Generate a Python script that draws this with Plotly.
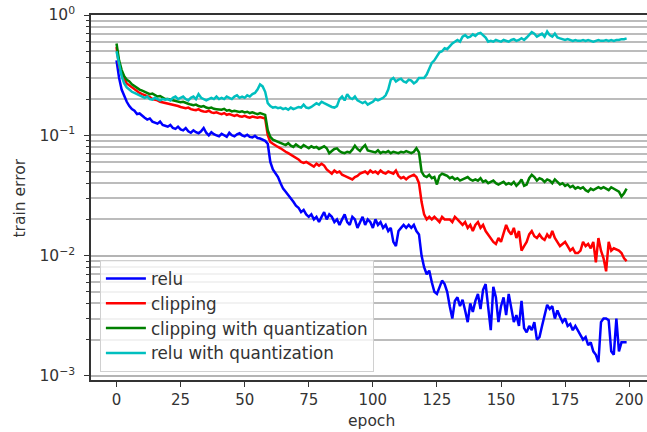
import plotly.graph_objects as go

epochs = list(range(200))

relu = [
    0.42, 0.30, 0.24, 0.21, 0.19, 0.175, 0.165, 0.16, 0.15, 0.152,
    0.145, 0.14, 0.135, 0.138, 0.13, 0.128, 0.125, 0.13, 0.122, 0.12,
    0.118, 0.122, 0.115, 0.113, 0.118, 0.112, 0.11, 0.115, 0.108, 0.105,
    0.11, 0.106, 0.104, 0.108, 0.115, 0.105, 0.1, 0.106, 0.102, 0.1,
    0.098, 0.103, 0.1, 0.097, 0.105, 0.1, 0.098, 0.102, 0.104, 0.1,
    0.098, 0.101, 0.097, 0.096, 0.099, 0.095, 0.094, 0.092, 0.09, 0.085,
    0.06, 0.052, 0.048, 0.045, 0.04, 0.036, 0.034, 0.032, 0.03, 0.028,
    0.026, 0.025, 0.023, 0.024, 0.022, 0.021, 0.022, 0.020, 0.021, 0.019,
    0.021, 0.023, 0.02, 0.022, 0.021, 0.019, 0.02, 0.018, 0.02, 0.022,
    0.019, 0.018, 0.021, 0.02, 0.017, 0.019, 0.021, 0.018, 0.02, 0.019,
    0.017, 0.02, 0.018, 0.019, 0.017, 0.018, 0.016, 0.017, 0.013, 0.012,
    0.016, 0.017, 0.018, 0.017, 0.018, 0.017, 0.018, 0.016, 0.015, 0.01,
    0.008, 0.007, 0.0075, 0.006, 0.005, 0.0048, 0.0055, 0.0062, 0.0058, 0.005,
    0.0038, 0.003, 0.0042, 0.0045, 0.0038, 0.0043, 0.0035, 0.0028, 0.004, 0.0034,
    0.0042, 0.0048, 0.0036, 0.0052, 0.0058, 0.0035, 0.0024, 0.0055, 0.0045, 0.0028,
    0.0038, 0.0045, 0.0032, 0.0048, 0.0035, 0.0028, 0.0032, 0.0026, 0.0042, 0.0025,
    0.0023, 0.0026, 0.0024, 0.0028, 0.002, 0.0021, 0.0026, 0.0032, 0.0039, 0.0036,
    0.0038, 0.003, 0.0035, 0.0031, 0.0028, 0.003, 0.0026, 0.0027, 0.0024, 0.0026,
    0.0024, 0.0022, 0.002, 0.0021, 0.0018, 0.0019, 0.0016, 0.0015, 0.0013, 0.0028,
    0.003, 0.003, 0.0029, 0.0016, 0.0015, 0.003, 0.0016, 0.0019, 0.0019, 0.0019,
]

clipping = [
    0.54, 0.38, 0.32, 0.29, 0.27, 0.26, 0.25, 0.24, 0.23, 0.225,
    0.22, 0.215, 0.21, 0.208, 0.2, 0.198, 0.195, 0.19, 0.188, 0.185,
    0.183, 0.18, 0.178, 0.176, 0.175, 0.172, 0.17, 0.168, 0.17, 0.165,
    0.163, 0.162, 0.165, 0.16, 0.158, 0.157, 0.16, 0.155, 0.153, 0.155,
    0.152, 0.15, 0.153, 0.148, 0.15, 0.147, 0.145, 0.148, 0.144, 0.143,
    0.145, 0.142, 0.14, 0.143, 0.141, 0.14, 0.142, 0.14, 0.138, 0.1,
    0.088, 0.085, 0.082, 0.08, 0.078, 0.076, 0.073, 0.071, 0.069, 0.066,
    0.065, 0.063, 0.06, 0.059, 0.06, 0.058, 0.057, 0.055, 0.058, 0.056,
    0.058, 0.056, 0.052, 0.05, 0.048, 0.051, 0.049, 0.05, 0.047, 0.046,
    0.045, 0.044, 0.043, 0.045, 0.046, 0.048, 0.049, 0.05, 0.048, 0.051,
    0.049, 0.05, 0.048, 0.051, 0.049, 0.048, 0.05, 0.049, 0.048, 0.051,
    0.046, 0.044, 0.045, 0.043, 0.045, 0.046, 0.047, 0.045, 0.04, 0.028,
    0.022, 0.02, 0.021, 0.02, 0.021, 0.02, 0.019, 0.021, 0.02, 0.02,
    0.02, 0.019, 0.021, 0.02, 0.019, 0.018, 0.019, 0.017, 0.018, 0.016,
    0.018, 0.019, 0.017, 0.018, 0.016, 0.015, 0.014, 0.013, 0.0125, 0.014,
    0.013, 0.015, 0.018, 0.016, 0.015, 0.017, 0.014, 0.016, 0.011, 0.012,
    0.013, 0.015, 0.016, 0.0145, 0.014, 0.015, 0.014, 0.0135, 0.015, 0.014,
    0.016, 0.014, 0.013, 0.012, 0.0125, 0.013, 0.012, 0.011, 0.0115, 0.0105,
    0.0105, 0.011, 0.013, 0.012, 0.0125, 0.0115, 0.013, 0.0088, 0.014, 0.011,
    0.0095, 0.0074, 0.013, 0.011, 0.0115, 0.0112, 0.011, 0.0105, 0.0095, 0.009,
]

clip_quant = [
    0.58, 0.42, 0.35, 0.31, 0.29, 0.28, 0.265, 0.255, 0.245, 0.24,
    0.235, 0.23, 0.225, 0.22, 0.222, 0.215, 0.21, 0.212, 0.205, 0.2,
    0.2, 0.198, 0.195, 0.193, 0.19, 0.188, 0.19, 0.185, 0.183, 0.18,
    0.178, 0.18, 0.175, 0.173, 0.175, 0.17, 0.168, 0.17, 0.166, 0.165,
    0.165, 0.163, 0.166, 0.16, 0.162, 0.158, 0.16, 0.157, 0.156, 0.158,
    0.155, 0.157, 0.153, 0.155, 0.152, 0.15, 0.153, 0.15, 0.148, 0.11,
    0.097, 0.092, 0.09, 0.088, 0.087, 0.085, 0.083, 0.086, 0.082, 0.08,
    0.084, 0.081, 0.079, 0.083, 0.08, 0.078, 0.081, 0.079, 0.08, 0.077,
    0.079, 0.081, 0.078, 0.071, 0.074, 0.077, 0.078, 0.074, 0.072, 0.071,
    0.073, 0.072, 0.076, 0.082, 0.077, 0.074, 0.079, 0.083, 0.075, 0.074,
    0.073, 0.072, 0.075, 0.071, 0.073, 0.072, 0.074, 0.071, 0.073, 0.072,
    0.071, 0.073, 0.072, 0.074, 0.072, 0.071, 0.073, 0.078, 0.072, 0.05,
    0.046, 0.045, 0.047, 0.044, 0.045, 0.039, 0.046, 0.048, 0.047, 0.046,
    0.044, 0.045, 0.043, 0.044, 0.042, 0.043, 0.044, 0.045, 0.043, 0.042,
    0.043, 0.042, 0.044, 0.041, 0.042, 0.04, 0.041, 0.042, 0.04, 0.039,
    0.04, 0.041, 0.039, 0.04, 0.039, 0.041, 0.038, 0.04, 0.043, 0.038,
    0.039, 0.044, 0.047, 0.045, 0.042, 0.044, 0.043, 0.041, 0.043, 0.042,
    0.04, 0.043, 0.041, 0.039, 0.04, 0.038, 0.039, 0.037, 0.038, 0.036,
    0.037, 0.036, 0.037, 0.035, 0.034, 0.036, 0.035, 0.036, 0.037, 0.036,
    0.037, 0.036, 0.035, 0.037, 0.036, 0.035, 0.034, 0.031, 0.033, 0.036,
]

relu_quant = [
    0.5, 0.38, 0.31, 0.27, 0.25, 0.24, 0.23, 0.225, 0.22, 0.215,
    0.21, 0.205, 0.21, 0.2, 0.198, 0.205, 0.2, 0.195, 0.2, 0.198,
    0.2, 0.195, 0.205, 0.21, 0.2, 0.205, 0.21, 0.2, 0.195, 0.205,
    0.21, 0.2, 0.22, 0.205, 0.2, 0.195, 0.2, 0.205, 0.2, 0.21,
    0.2, 0.205, 0.2, 0.21, 0.205, 0.2, 0.21, 0.215, 0.205, 0.21,
    0.205, 0.215, 0.21, 0.22, 0.225, 0.24, 0.265, 0.255, 0.23, 0.185,
    0.175, 0.17, 0.172, 0.168, 0.17, 0.165, 0.168, 0.163, 0.17, 0.165,
    0.168, 0.172, 0.17, 0.18, 0.17, 0.168, 0.172, 0.178, 0.185, 0.18,
    0.19, 0.185, 0.18, 0.175, 0.172, 0.17, 0.175, 0.2, 0.21, 0.195,
    0.22, 0.205, 0.2, 0.21, 0.195, 0.19, 0.185, 0.19, 0.18, 0.185,
    0.19, 0.2, 0.195, 0.2, 0.205, 0.215, 0.24, 0.29, 0.3, 0.28,
    0.29, 0.295, 0.28, 0.275, 0.29, 0.285, 0.27, 0.28, 0.3, 0.3,
    0.3, 0.32, 0.36, 0.4, 0.42, 0.45, 0.49, 0.5, 0.53, 0.52,
    0.55, 0.58, 0.6, 0.62, 0.6, 0.66, 0.68, 0.65, 0.66, 0.69,
    0.67, 0.7, 0.71, 0.68, 0.65, 0.6, 0.61, 0.6, 0.62, 0.61,
    0.6, 0.62, 0.61, 0.6, 0.62, 0.63, 0.61, 0.62, 0.64, 0.62,
    0.65, 0.68, 0.72, 0.7, 0.66, 0.68, 0.7, 0.66, 0.73, 0.68,
    0.66, 0.7, 0.65, 0.64, 0.63, 0.62, 0.63, 0.62, 0.61, 0.62,
    0.61, 0.61, 0.62, 0.61, 0.62, 0.61, 0.6, 0.61, 0.62, 0.61,
    0.61, 0.62, 0.61, 0.62, 0.61, 0.62, 0.62, 0.63, 0.63, 0.64,
]

series_names = ["relu", "clipping", "clipping with quantization", "relu with quantization"]
series_colors = ["#0000ff", "#ff0000", "#008000", "#00bfbf"]
series_values = [relu, clipping, clip_quant, relu_quant]

x_tickvals = [0, 25, 50, 75, 100, 125, 150, 175, 200]
y_tickvals = [1e-3, 1e-2, 1e-1, 1e0]
y_ticktext = ["10<sup>−3</sup>", "10<sup>−2</sup>", "10<sup>−1</sup>", "10<sup>0</sup>"]
y_minor_vals = [m * 10.0 ** d for d in (-3, -2, -1) for m in range(2, 10)]

fig = go.Figure()
for i, (name, color, vals) in enumerate(zip(series_names, series_colors, series_values)):
    fig.add_trace(go.Scatter(
        x=epochs, y=vals, mode="lines", name=name,
        line=dict(color=color, width=2.5),
        legendgroup=f"g{i}",
    ))

font_family = "DejaVu Sans"
text_color = "#333333"

fig.update_layout(
    width=647, height=432,
    margin=dict(l=91, r=0, t=15, b=52, autoexpand=False),
    paper_bgcolor="white", plot_bgcolor="white",
    font=dict(family=font_family, size=15, color=text_color),
    showlegend=True,
    legend=dict(
        x=0.016, y=0.022, xanchor="left", yanchor="bottom",
        bgcolor="rgba(255,255,255,0.8)", bordercolor="#d0d0d0", borderwidth=1,
        font=dict(family=font_family, size=16.8, color=text_color),
        tracegroupgap=0, traceorder="grouped", itemwidth=40,
    ),
    xaxis=dict(
        range=[-9.95, 206.95], automargin=False,
        tickmode="array", tickvals=x_tickvals,
        ticks="outside", ticklen=5, tickwidth=1.2, tickcolor="#333333",
        tickfont=dict(size=15), ticklabeloverflow="allow",
        showgrid=False, zeroline=False,
        showline=True, linecolor="#333333", linewidth=1.5, mirror=True,
    ),
    yaxis=dict(
        type="log", range=[-3.034, 0.0], automargin=False,
        tickmode="array", tickvals=y_tickvals, ticktext=y_ticktext,
        ticks="outside", ticklen=5, tickwidth=1.2, tickcolor="#333333",
        tickfont=dict(size=15.5), ticklabelstandoff=6, ticklabeloverflow="allow",
        showgrid=True, gridcolor="#b4b4b4", gridwidth=1.5,
        zeroline=False,
        showline=True, linecolor="#333333", linewidth=1.5,
        minor=dict(tickmode="array", tickvals=y_minor_vals, ticks="outside",
                   ticklen=3, tickcolor="#333333", showgrid=True,
                   gridcolor="#bcbcbc", gridwidth=1.5),
    ),
    annotations=[
        dict(text="epoch", xref="paper", yref="paper", x=0.5036, y=-0.112,
             xanchor="center", yanchor="middle", showarrow=False,
             font=dict(size=15.5, color=text_color)),
        dict(text="train error", xref="paper", yref="paper", x=-0.1277, y=0.5,
             xanchor="center", yanchor="middle", showarrow=False, textangle=-90,
             font=dict(size=15.5, color=text_color)),
    ],
)

# remove the browser's default 8px body margin so the figure fills the window
fig.write_html("out.html", config={"displayModeBar": False},
               post_script="document.body.style.margin='0px';")
